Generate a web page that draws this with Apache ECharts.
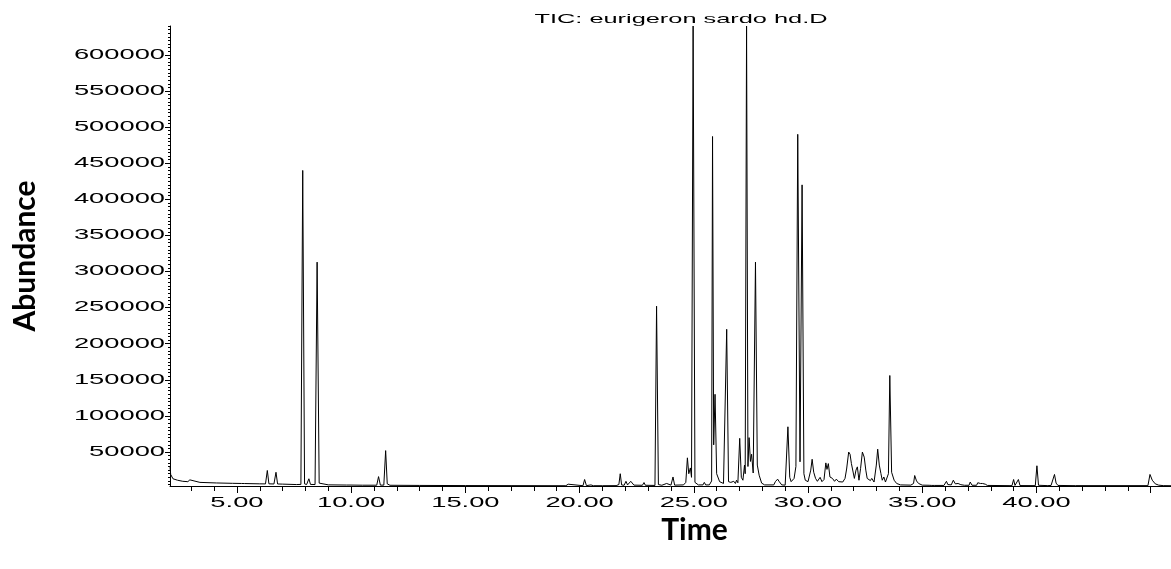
<!DOCTYPE html>
<html>
<head>
<meta charset="utf-8">
<script src="https://cdn.jsdelivr.net/npm/echarts@6/dist/echarts.min.js"></script>
<style>
html,body{margin:0;padding:0;background:#ffffff;}
#chart{width:1171px;height:569px;}
</style>
</head>
<body>
<div id="chart"></div>
<script>
// ---------------- data ----------------
const titleText = 'TIC: eurigeron sardo hd.D';
const xAxisName = 'Time';
const yAxisName = 'Abundance';

const retentionTime = [
  2.07, 2.10, 2.20, 2.40, 2.63, 2.85, 2.94, 3.02, 3.38, 4.10, 4.80, 5.20, 5.27, 5.34, 6.00, 6.25, 6.33, 6.40, 6.62, 6.71,
  6.78, 7.00, 7.60, 7.80, 7.88, 7.96, 8.05, 8.15, 8.22, 8.42, 8.51, 8.60, 8.68, 9.00, 9.80, 9.88, 9.95, 10.50, 11.12, 11.20,
  11.28, 11.43, 11.51, 11.58, 11.70, 13.00, 15.00, 17.00, 19.40, 19.50, 19.58, 20.15, 20.22, 20.30, 20.50, 20.60, 21.00, 21.60, 21.72, 21.78,
  21.84, 21.95, 22.03, 22.10, 22.18, 22.24, 22.27, 22.31, 22.38, 22.75, 22.82, 22.88, 23.30, 23.37, 23.45, 23.60, 23.81, 23.88, 24.00, 24.09,
  24.16, 24.55, 24.65, 24.72, 24.78, 24.85, 24.90, 24.97, 25.05, 25.20, 25.40, 25.46, 25.52, 25.68, 25.74, 25.78, 25.82, 25.87, 25.93, 26.00,
  26.13, 26.30, 26.38, 26.44, 26.52, 26.62, 26.68, 26.75, 26.82, 26.87, 26.93, 27.01, 27.08, 27.15, 27.22, 27.25, 27.31, 27.37, 27.42, 27.48,
  27.53, 27.60, 27.70, 27.78, 27.86, 27.97, 28.10, 28.50, 28.57, 28.62, 28.67, 28.73, 28.85, 29.00, 29.12, 29.20, 29.26, 29.39, 29.47, 29.55,
  29.65, 29.74, 29.82, 29.88, 30.00, 30.12, 30.18, 30.25, 30.33, 30.41, 30.53, 30.61, 30.70, 30.78, 30.83, 30.89, 30.96, 31.07, 31.16, 31.24,
  31.34, 31.41, 31.52, 31.62, 31.69, 31.78, 31.84, 31.90, 31.97, 32.03, 32.10, 32.16, 32.23, 32.30, 32.38, 32.46, 32.53, 32.59, 32.66, 32.73,
  32.79, 32.89, 32.99, 33.05, 33.12, 33.19, 33.25, 33.32, 33.39, 33.47, 33.52, 33.58, 33.66, 33.77, 33.88, 34.05, 34.50, 34.62, 34.67, 34.75,
  34.84, 35.00, 35.30, 35.37, 35.42, 35.48, 35.55, 35.95, 36.06, 36.12, 36.19, 36.27, 36.36, 36.45, 36.57, 36.69, 36.85, 37.05, 37.10, 37.18,
  37.38, 37.43, 37.49, 37.55, 37.64, 37.70, 37.76, 37.85, 38.80, 38.93, 39.00, 39.06, 39.14, 39.21, 39.28, 39.95, 40.02, 40.09, 40.50, 40.57,
  40.64, 40.72, 40.79, 40.86, 40.94, 41.60, 41.64, 41.70, 44.88, 44.97, 45.07, 45.20, 45.35, 45.55, 45.89
];

const abundance = [
  30000, 19000, 13000, 11000, 9500, 9000, 11500, 8800, 8000, 7200, 6700, 6500, 8000, 6400, 6000, 5900, 24500, 6000, 5800, 22000,
  5800, 5600, 5000, 5200, 440000, 6000, 5000, 13000, 5200, 5000, 313000, 7000, 4800, 4600, 4300, 5500, 4300, 4100, 4100, 16000,
  4200, 4200, 52000, 6000, 4000, 3800, 3600, 3500, 3400, 5500, 3400, 3400, 12000, 3500, 4500, 3400, 3400, 3500, 5000, 20000,
  4500, 4000, 9500, 4500, 4500, 9500, 7000, 10000, 4200, 4000, 7800, 4000, 3800, 252000, 5000, 4000, 6500, 4000, 4200, 15500,
  4200, 4500, 8000, 42000, 20000, 28000, 15000, 640000, 8000, 4500, 4500, 8000, 4500, 4500, 5500, 10000, 487000, 60000, 130000, 20000,
  9000, 6500, 9000, 220000, 9000, 8000, 6000, 9500, 6500, 11000, 7500, 69000, 15000, 11000, 32000, 20000, 640000, 30000, 70000, 37000,
  47000, 21000, 313000, 32000, 18000, 7000, 4500, 4500, 9000, 7500, 12500, 9500, 4500, 4200, 85000, 15000, 9000, 13500, 30000, 490000,
  36500, 420000, 20000, 11000, 9000, 25000, 40000, 22000, 13500, 9500, 15000, 9000, 12000, 35000, 26000, 34000, 15500, 13500, 9500, 12500,
  9000, 11500, 8500, 13500, 26500, 50000, 47000, 34000, 33000, 13500, 25000, 29500, 11000, 27000, 50000, 43000, 25000, 13500, 15500, 10500,
  13500, 8500, 32000, 54000, 32000, 20500, 11000, 15500, 8500, 9500, 20000, 156000, 22000, 11000, 6500, 4500, 4200, 6500, 17500, 10000,
  6500, 4200, 4000, 5000, 3800, 6000, 3800, 3800, 9500, 5000, 6500, 4500, 11000, 6000, 6500, 4800, 4000, 4000, 8500, 4000,
  4000, 7500, 5500, 6500, 6500, 4500, 5500, 3800, 3500, 3500, 12000, 3800, 3800, 12000, 3600, 3500, 31000, 4000, 3500, 5000,
  3800, 4500, 19000, 7000, 3800, 3500, 4500, 3500, 3500, 19000, 11000, 6000, 4200, 3500, 3400
];

// axis ranges and tick labels
const xRange = [2.07, 45.89];
const yRange = [3000, 640000];
const xLabelValues = [5, 10, 15, 20, 25, 30, 35, 40];
const xMajorTickValues = [5, 10, 15, 20, 25, 30, 35, 40, 45];
const yLabelValues = [50000, 100000, 150000, 200000, 250000, 300000, 350000, 400000, 450000, 500000, 550000, 600000];

// ---------------- rendering helpers ----------------
// the instrument font is horizontally stretched; reproduce by scaling glyphs around their anchor
const STRETCH = 1.95;
(function () {
  const proto = CanvasRenderingContext2D.prototype;
  const orig = proto.fillText;
  proto.fillText = function (text, x, y, maxWidth) {
    if (this.font && this.font.indexOf('Liberation Sans') >= 0) {
      this.save();
      this.translate(x, y);
      this.scale(STRETCH, 1);
      orig.call(this, text, 0, 0);
      this.restore();
      return;
    }
    return orig.apply(this, arguments);
  };
})();

const xMinorTickValues = [];
for (let m = Math.ceil(xRange[0]); m <= xRange[1]; m++) {
  if (m % 5 !== 0) xMinorTickValues.push(m);
}
const yMinorTickValues = [];
for (let v = 5000; v <= yRange[1]; v += 5000) {
  if (v % 50000 !== 0 && v >= yRange[0]) yMinorTickValues.push(v);
}

const seriesData = retentionTime.map((t, i) => [t, abundance[i]]);

const axisColor = '#000000';
const labelFont = { fontFamily: 'Liberation Sans', fontSize: 14, color: '#000000' };
const nameFont = { fontFamily: 'Lato', fontWeight: 'bold', fontSize: 30, color: '#000000' };

const chart = echarts.init(document.getElementById('chart'), null, { renderer: 'canvas' });
chart.setOption({
  animation: false,
  backgroundColor: '#ffffff',
  title: {
    text: titleText,
    left: 681,
    top: 13,
    textAlign: 'center',
    padding: 0,
    textStyle: { fontFamily: 'Liberation Sans', fontSize: 13, fontWeight: 'normal', color: '#000000' }
  },
  grid: { left: 170, right: 0, top: 26, bottom: 83, containLabel: false, outerBoundsMode: 'none' },
  xAxis: [
    {
      type: 'value', min: xRange[0], max: xRange[1], position: 'bottom',
      axisLine: { show: true, onZero: false, lineStyle: { color: axisColor, width: 1 } },
      axisTick: { show: true, customValues: xMajorTickValues, length: 7, lineStyle: { color: axisColor, width: 1 } },
      axisLabel: { show: true, customValues: xLabelValues, margin: 10, formatter: v => v.toFixed(2), ...labelFont },
      splitLine: { show: false },
      name: xAxisName, nameLocation: 'middle', nameGap: 19,
      nameTextStyle: Object.assign({ padding: [0, 0, 0, 48] }, nameFont)
    },
    {
      type: 'value', min: xRange[0], max: xRange[1], position: 'bottom',
      axisLine: { show: false, onZero: false },
      axisTick: { show: true, customValues: xMinorTickValues, length: 5, lineStyle: { color: axisColor, width: 1 } },
      axisLabel: { show: false },
      splitLine: { show: false }
    }
  ],
  yAxis: [
    {
      type: 'value', min: yRange[0], max: yRange[1], position: 'left',
      axisLine: { show: true, onZero: false, lineStyle: { color: axisColor, width: 1 } },
      axisTick: { show: true, customValues: yLabelValues, length: 5, lineStyle: { color: axisColor, width: 1 } },
      axisLabel: { show: true, customValues: yLabelValues, margin: 5, formatter: v => String(v), ...labelFont },
      splitLine: { show: false },
      name: yAxisName, nameLocation: 'middle', nameGap: 130, nameRotate: 90, nameTextStyle: nameFont
    },
    {
      type: 'value', min: yRange[0], max: yRange[1], position: 'left',
      axisLine: { show: false, onZero: false },
      axisTick: { show: true, customValues: yMinorTickValues, length: 2, lineStyle: { color: axisColor, width: 1 } },
      axisLabel: { show: false },
      splitLine: { show: false }
    }
  ],
  series: [
    {
      type: 'line',
      xAxisIndex: 0,
      yAxisIndex: 0,
      data: seriesData,
      showSymbol: false,
      symbol: 'none',
      silent: true,
      clip: true,
      lineStyle: { color: '#000000', width: 1 },
      emphasis: { disabled: true }
    }
  ]
});
</script>
</body>
</html>
